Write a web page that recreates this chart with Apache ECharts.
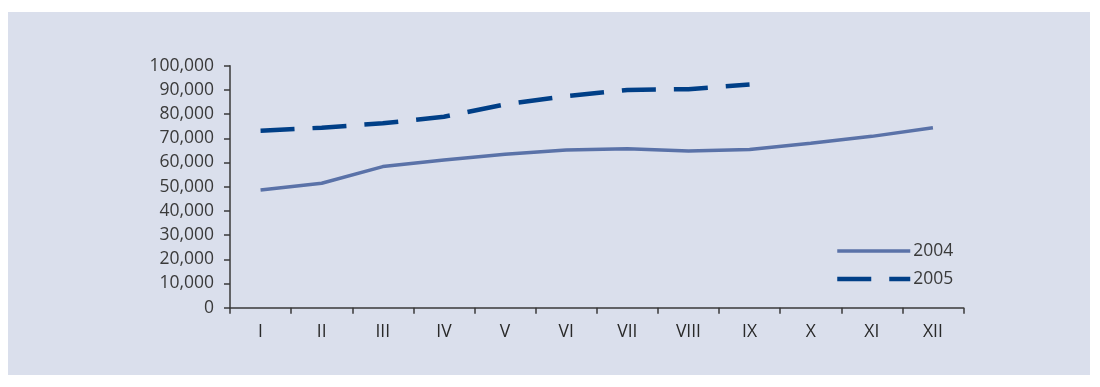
<!DOCTYPE html>
<html>
<head>
<meta charset="utf-8">
<script src="https://cdn.jsdelivr.net/npm/echarts@6/dist/echarts.min.js"></script>
<style>
html,body{margin:0;padding:0;background:#ffffff;}
#bg{position:absolute;left:8px;top:12px;width:1082px;height:363px;background:#dadfec;}
#chart{position:absolute;left:0;top:0;width:1100px;height:387px;}
</style>
</head>
<body>
<div id="bg"></div>
<div id="chart"></div>
<script>
const categories = ['I','II','III','IV','V','VI','VII','VIII','IX','X','XI','XII'];
const series2004 = [48600, 51400, 58300, 61000, 63400, 65200, 65700, 64800, 65400, 68000, 70800, 74400];
const series2005 = [73100, 74400, 76200, 78900, 84000, 87400, 90000, 90300, 92200, null, null, null];
const seriesNames = ['2004', '2005'];

const chart = echarts.init(document.getElementById('chart'), null, {renderer:'canvas'});
const font = '"Open Sans", "Noto Sans", sans-serif';
chart.setOption({
  backgroundColor: 'transparent',
  animation: false,
  grid: {left: 230, right: 136.5, top: 65.7, bottom: 79.3, containLabel: false},
  xAxis: {
    type: 'category',
    data: categories,
    boundaryGap: true,
    axisLine: {lineStyle: {color: '#3a3a3a', width: 1.5}},
    axisTick: {show: true, length: 6, alignWithLabel: false, lineStyle: {color: '#3a3a3a', width: 1.5}},
    axisLabel: {color: '#2a2a2a', fontFamily: font, fontSize: 17.5, margin: 15, interval: 0}
  },
  yAxis: {
    type: 'value',
    min: 0, max: 100000, interval: 10000,
    splitLine: {show: false},
    axisLine: {show: true, lineStyle: {color: '#3a3a3a', width: 1.5}},
    axisTick: {show: true, length: 6, lineStyle: {color: '#3a3a3a', width: 1.5}},
    axisLabel: {
      color: '#3a3a3a', fontFamily: font, fontSize: 17.5, margin: 16,
      formatter: v => v.toLocaleString('en-US')
    }
  },
  legend: {
    orient: 'vertical',
    left: 830, top: 237,
    itemWidth: 73, itemHeight: 14, itemGap: 10,
    itemStyle: {opacity: 0},
    lineStyle: {width: 'inherit', type: 'inherit'},
    textStyle: {color: '#3a3a3a', fontFamily: font, fontSize: 17.5, padding: [0,0,0,-2]},
    data: seriesNames
  },
  series: [
    {name: seriesNames[0], type: 'line', data: series2004, symbol: 'none',
     lineStyle: {color: '#5a72a8', width: 3.5}, itemStyle: {color: '#5a72a8'}},
    {name: seriesNames[1], type: 'line', data: series2005, symbol: 'none',
     lineStyle: {color: '#003f87', width: 4.5, type: [34, 18]}, itemStyle: {color: '#003f87'}}
  ]
});
</script>
</body>
</html>
